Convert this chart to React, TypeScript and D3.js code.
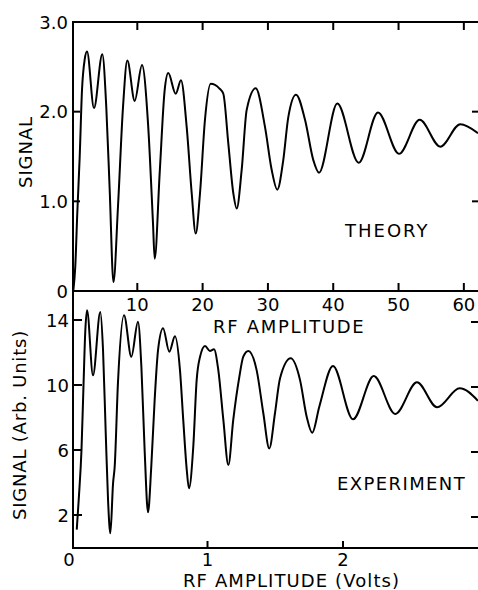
import React from 'react';
import * as d3 from 'd3';

// Theory panel: RF amplitude (arb.) vs signal
const theoryX = [0.2, 0.5, 0.81, 1.18, 1.53, 1.94, 2.3, 3.37, 4.64, 5.25, 5.77, 6.35, 7.04, 7.81, 8.47, 9.6, 10.72, 11.64, 12.4, 12.66, 13.43, 14.19, 14.74, 15.88, 16.69, 17.56, 18.33, 18.94, 19.6, 20.36, 21.24, 22.55, 23.17, 23.93, 24.7, 25.22, 25.98, 26.75, 28.13, 29.55, 30.58, 31.43, 32.35, 33.12, 34.3, 35.68, 36.95, 37.82, 40.62, 43.9, 46.85, 50.07, 53.24, 56.39, 59.45, 62.17];
const theoryY = [0, 0.27, 0.87, 1.5, 2.24, 2.58, 2.67, 2.04, 2.64, 2.05, 1.13, 0.1, 0.94, 2.05, 2.57, 2.12, 2.52, 1.87, 0.76, 0.36, 1.32, 2.24, 2.43, 2.2, 2.35, 1.83, 1.09, 0.64, 1.09, 1.91, 2.31, 2.26, 2.2, 1.65, 1.09, 0.92, 1.35, 2.02, 2.26, 1.83, 1.35, 1.13, 1.46, 1.94, 2.19, 1.91, 1.46, 1.32, 2.09, 1.43, 1.99, 1.53, 1.91, 1.61, 1.86, 1.76];

// Experiment panel: RF amplitude (Volts) vs signal (arb. units)
const expX = [0.035, 0.05, 0.07, 0.085, 0.098, 0.111, 0.155, 0.209, 0.229, 0.249, 0.266, 0.283, 0.303, 0.315, 0.339, 0.384, 0.438, 0.487, 0.512, 0.536, 0.561, 0.585, 0.61, 0.635, 0.672, 0.718, 0.76, 0.797, 0.821, 0.847, 0.863, 0.895, 0.92, 0.945, 0.982, 1.018, 1.048, 1.08, 1.117, 1.154, 1.19, 1.235, 1.264, 1.301, 1.363, 1.412, 1.456, 1.498, 1.535, 1.614, 1.683, 1.732, 1.773, 1.825, 1.926, 2.074, 2.227, 2.386, 2.546, 2.694, 2.861, 2.996];
const expY = [1.1, 3.0, 6.0, 10.0, 13.3, 14.6, 10.6, 14.5, 12.15, 7.03, 2.92, 0.87, 3.95, 4.97, 10.1, 14.3, 11.74, 13.9, 11.13, 6.0, 2.17, 4.97, 9.08, 12.15, 13.5, 12.05, 13.0, 10.9, 7.85, 4.77, 3.64, 6.2, 10.3, 11.74, 12.4, 12.1, 12.2, 10.9, 7.85, 5.08, 7.85, 10.5, 11.74, 12.1, 10.9, 8.26, 6.1, 8.26, 10.4, 11.64, 10.3, 8.05, 7.06, 8.66, 11.17, 7.89, 10.55, 8.22, 10.17, 8.63, 9.8, 9.03];

const topXTicks = [10, 20, 30, 40, 50, 60];
const topYTicks = [0, 1, 2, 3];
const topYTickLabels = ['0', '1.0', '2.0', '3.0'];
const botXTicks = [0, 1, 2];
const botYTicks = [2, 6, 10, 14];

const FONT = 'DejaVu Sans';

export default function App() {
  const W = 478, H = 590;
  const axL = 73, axR = 478, yTopEdge = 22, yMid = 291, yBot = 548;

  const xTop = d3.scaleLinear().domain([0, 62.32]).range([72, 479]);
  const yTop = d3.scaleLinear().domain([0, 3]).range([291, 22]);
  const xBot = d3.scaleLinear().domain([0, 3]).range([72, 478.5]);
  const yBotS = d3.scaleLinear().domain([0, 14]).range([547.5, 320]);

  const topLine = d3.line<number>()
    .x((_, i) => xTop(theoryX[i]))
    .y((d) => yTop(d))
    .curve(d3.curveMonotoneX);
  const botLine = d3.line<number>()
    .x((_, i) => xBot(expX[i]))
    .y((d) => yBotS(d))
    .curve(d3.curveMonotoneX);

  const sw = 2;
  const txt = { fontFamily: FONT, fontSize: 18, fill: '#000' } as const;

  return (
    <svg width={W} height={H} style={{ position: 'absolute', left: 0, top: 0, background: '#fff' }}>
      <rect x={0} y={0} width={W} height={H} fill="#fff" />
      {/* frame */}
      <g stroke="#000" strokeWidth={sw} fill="none">
        <line x1={axL} y1={yTopEdge} x2={axR} y2={yTopEdge} />
        <line x1={axL} y1={yTopEdge - 1} x2={axL} y2={yBot + 1} />
        <line x1={axL} y1={yMid} x2={axR} y2={yMid} />
        <line x1={axL} y1={yBot} x2={axR} y2={yBot} />
        {/* top panel x ticks */}
        {topXTicks.map((t) => (
          <g key={'tx' + t}>
            <line x1={xTop(t)} y1={yTopEdge} x2={xTop(t)} y2={yTopEdge + 8} />
            <line x1={xTop(t)} y1={yMid} x2={xTop(t)} y2={yMid - 8} />
          </g>
        ))}
        {/* top panel y ticks */}
        {topYTicks.filter((t) => t > 0 && t < 3).map((t) => (
          <g key={'ty' + t}>
            <line x1={axL} y1={yTop(t)} x2={axL + 7} y2={yTop(t)} />
            <line x1={axR - 6} y1={yTop(t)} x2={axR} y2={yTop(t)} />
          </g>
        ))}
        {/* bottom panel ticks */}
        {botXTicks.filter((t) => t > 0).map((t) => (
          <line key={'bx' + t} x1={xBot(t)} y1={yBot} x2={xBot(t)} y2={yBot - 7} />
        ))}
        {botYTicks.map((t) => (
          <g key={'by' + t}>
            <line x1={axL} y1={yBotS(t)} x2={axL + 9} y2={yBotS(t)} />
            <line x1={axR - 7} y1={yBotS(t) + 2} x2={axR} y2={yBotS(t) + 2} />
          </g>
        ))}
      </g>

      {/* curves */}
      <path d={topLine(theoryY) || ''} fill="none" stroke="#000" strokeWidth={2} strokeLinejoin="round" />
      <path d={botLine(expY) || ''} fill="none" stroke="#000" strokeWidth={2} strokeLinejoin="round" />

      {/* top y tick labels */}
      {topYTicks.map((t, i) => (
        <text key={'tyl' + t} x={68} y={yTop(t) + 6.5} textAnchor="end" {...txt}>{topYTickLabels[i]}</text>
      ))}
      {/* top x tick labels */}
      {topXTicks.map((t) => (
        <text key={'txl' + t} x={xTop(t)} y={311} textAnchor="middle" {...txt}>{String(t)}</text>
      ))}
      <text x={213} y={333} letterSpacing={1.7} {...txt}>RF AMPLITUDE</text>

      {/* bottom labels */}
      {botYTicks.map((t) => (
        <text key={'byl' + t} x={69} y={yBotS(t) + 7} textAnchor="end" {...txt}>{String(t)}</text>
      ))}
      {botXTicks.map((t) => (
        <text key={'bxl' + t} x={t === 0 ? 69 : xBot(t)} y={566} textAnchor="middle" {...txt}>{String(t)}</text>
      ))}
      <text x={183} y={587} letterSpacing={1.1} {...txt}>RF AMPLITUDE (Volts)</text>

      <text x={345} y={236.5} letterSpacing={2} {...txt}>THEORY</text>
      <text x={337} y={489.5} letterSpacing={1.4} {...txt}>EXPERIMENT</text>

      <text transform="translate(32,152) rotate(-90)" textAnchor="middle" letterSpacing={0.9} {...txt}>SIGNAL</text>
      <text transform="translate(26,425) rotate(-90)" textAnchor="middle" letterSpacing={0.8} {...txt}>SIGNAL (Arb. Units)</text>
    </svg>
  );
}
